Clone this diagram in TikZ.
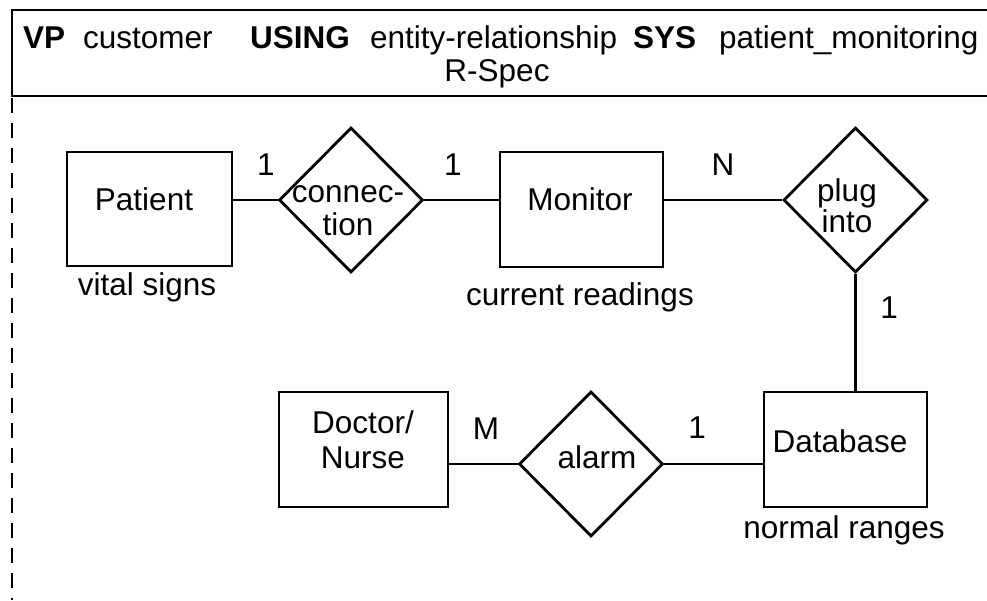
\documentclass[tikz,border=0pt]{standalone}
\usepackage{fontspec}
\setmainfont{Liberation Sans}
\usetikzlibrary{shapes.geometric}

\tikzset{
  entity/.style={draw, line width=2.8pt, rectangle, inner sep=0pt},
  relation/.style={draw, line width=2.8pt, diamond, inner sep=0pt, minimum width=144pt, minimum height=145pt},
  link/.style={line width=2.8pt},
  lbl/.style={anchor=base, inner sep=0pt, font=\fontsize{31.5}{37}\selectfont},
  hdr/.style={anchor=base west, inner sep=0pt, font=\fontsize{31.5}{37}\selectfont},
}

\begin{document}
\begin{tikzpicture}[x=1pt, y=-1pt]
\useasboundingbox (0,0) rectangle (987,600);

% header frame and the dashed left margin
\draw[line width=2.8pt] (1000,10) -- (12,10) -- (12,96) -- (1000,96);
\draw[line width=2.8pt, dash pattern=on 15pt off 10pt] (12,98) -- (12,600);

% header text
\node[hdr] (hvp)   at (23,48)  {\bfseries VP};
\node[hdr] (hcust) at (83,48)  {customer};
\node[hdr] (huse)  at (250,48) {\bfseries USING};
\node[hdr] (her)   at (370,48) {entity-relationship};
\node[hdr] (hsys)  at (633,48) {\bfseries SYS};
\node[hdr] (hpm)   at (719,48) {patient\_monitoring};
\node[lbl] (hrs)   at (497,81) {R-Spec};

% entities
\node[entity, minimum width=165pt, minimum height=114pt] (patient) at (149.5,209) {};
\node[entity, minimum width=163pt, minimum height=115pt] (monitor) at (581.5,209.5) {};
\node[entity, minimum width=163pt, minimum height=115pt] (database) at (845.5,449.5) {};
\node[entity, minimum width=169pt, minimum height=115pt] (doctor) at (363.5,449.5) {};

% relationships
\node[relation] (conn)  at (351,200) {};
\node[relation] (plug)  at (855.5,200) {};
\node[relation] (alarm) at (591,464) {};

% connectors
\draw[link] (conn.west) -- (conn.west -| patient.east);
\draw[link] (conn.east) -- (conn.east -| monitor.west);
\draw[link] (plug.west) -- (plug.west -| monitor.east);
\draw[link] (plug.south) -- (plug.south |- database.north);
\draw[link] (alarm.west) -- (alarm.west -| doctor.east);
\draw[link] (alarm.east) -- (alarm.east -| database.west);

% names inside shapes
\node[lbl] (tpat)  at (144,210) {Patient};
\node[lbl] (tmon)  at (580,210) {Monitor};
\node[lbl] (tdb)   at (840,452) {Database};
\node[lbl] (tdoc1) at (363,433) {Doctor/};
\node[lbl] (tdoc2) at (363,468) {Nurse};
\node[lbl] (tcon1) at (348,202) {connec-};
\node[lbl] (tcon2) at (348,235) {tion};
\node[lbl] (tplg1) at (847,201) {plug};
\node[lbl] (tplg2) at (847,232) {into};
\node[lbl] (talm)  at (597,468) {alarm};

% attribute notes under entities
\node[lbl] (avit) at (147,295) {vital signs};
\node[lbl] (acur) at (580,305) {current readings};
\node[lbl] (anor) at (844,538) {normal ranges};

% cardinalities
\node[lbl] (c1) at (266,175) {1};
\node[lbl] (c2) at (453,175) {1};
\node[lbl] (c3) at (723,175) {N};
\node[lbl] (c4) at (889,318) {1};
\node[lbl] (c5) at (697,438) {1};
\node[lbl] (c6) at (486,439) {M};
\end{tikzpicture}
\end{document}
